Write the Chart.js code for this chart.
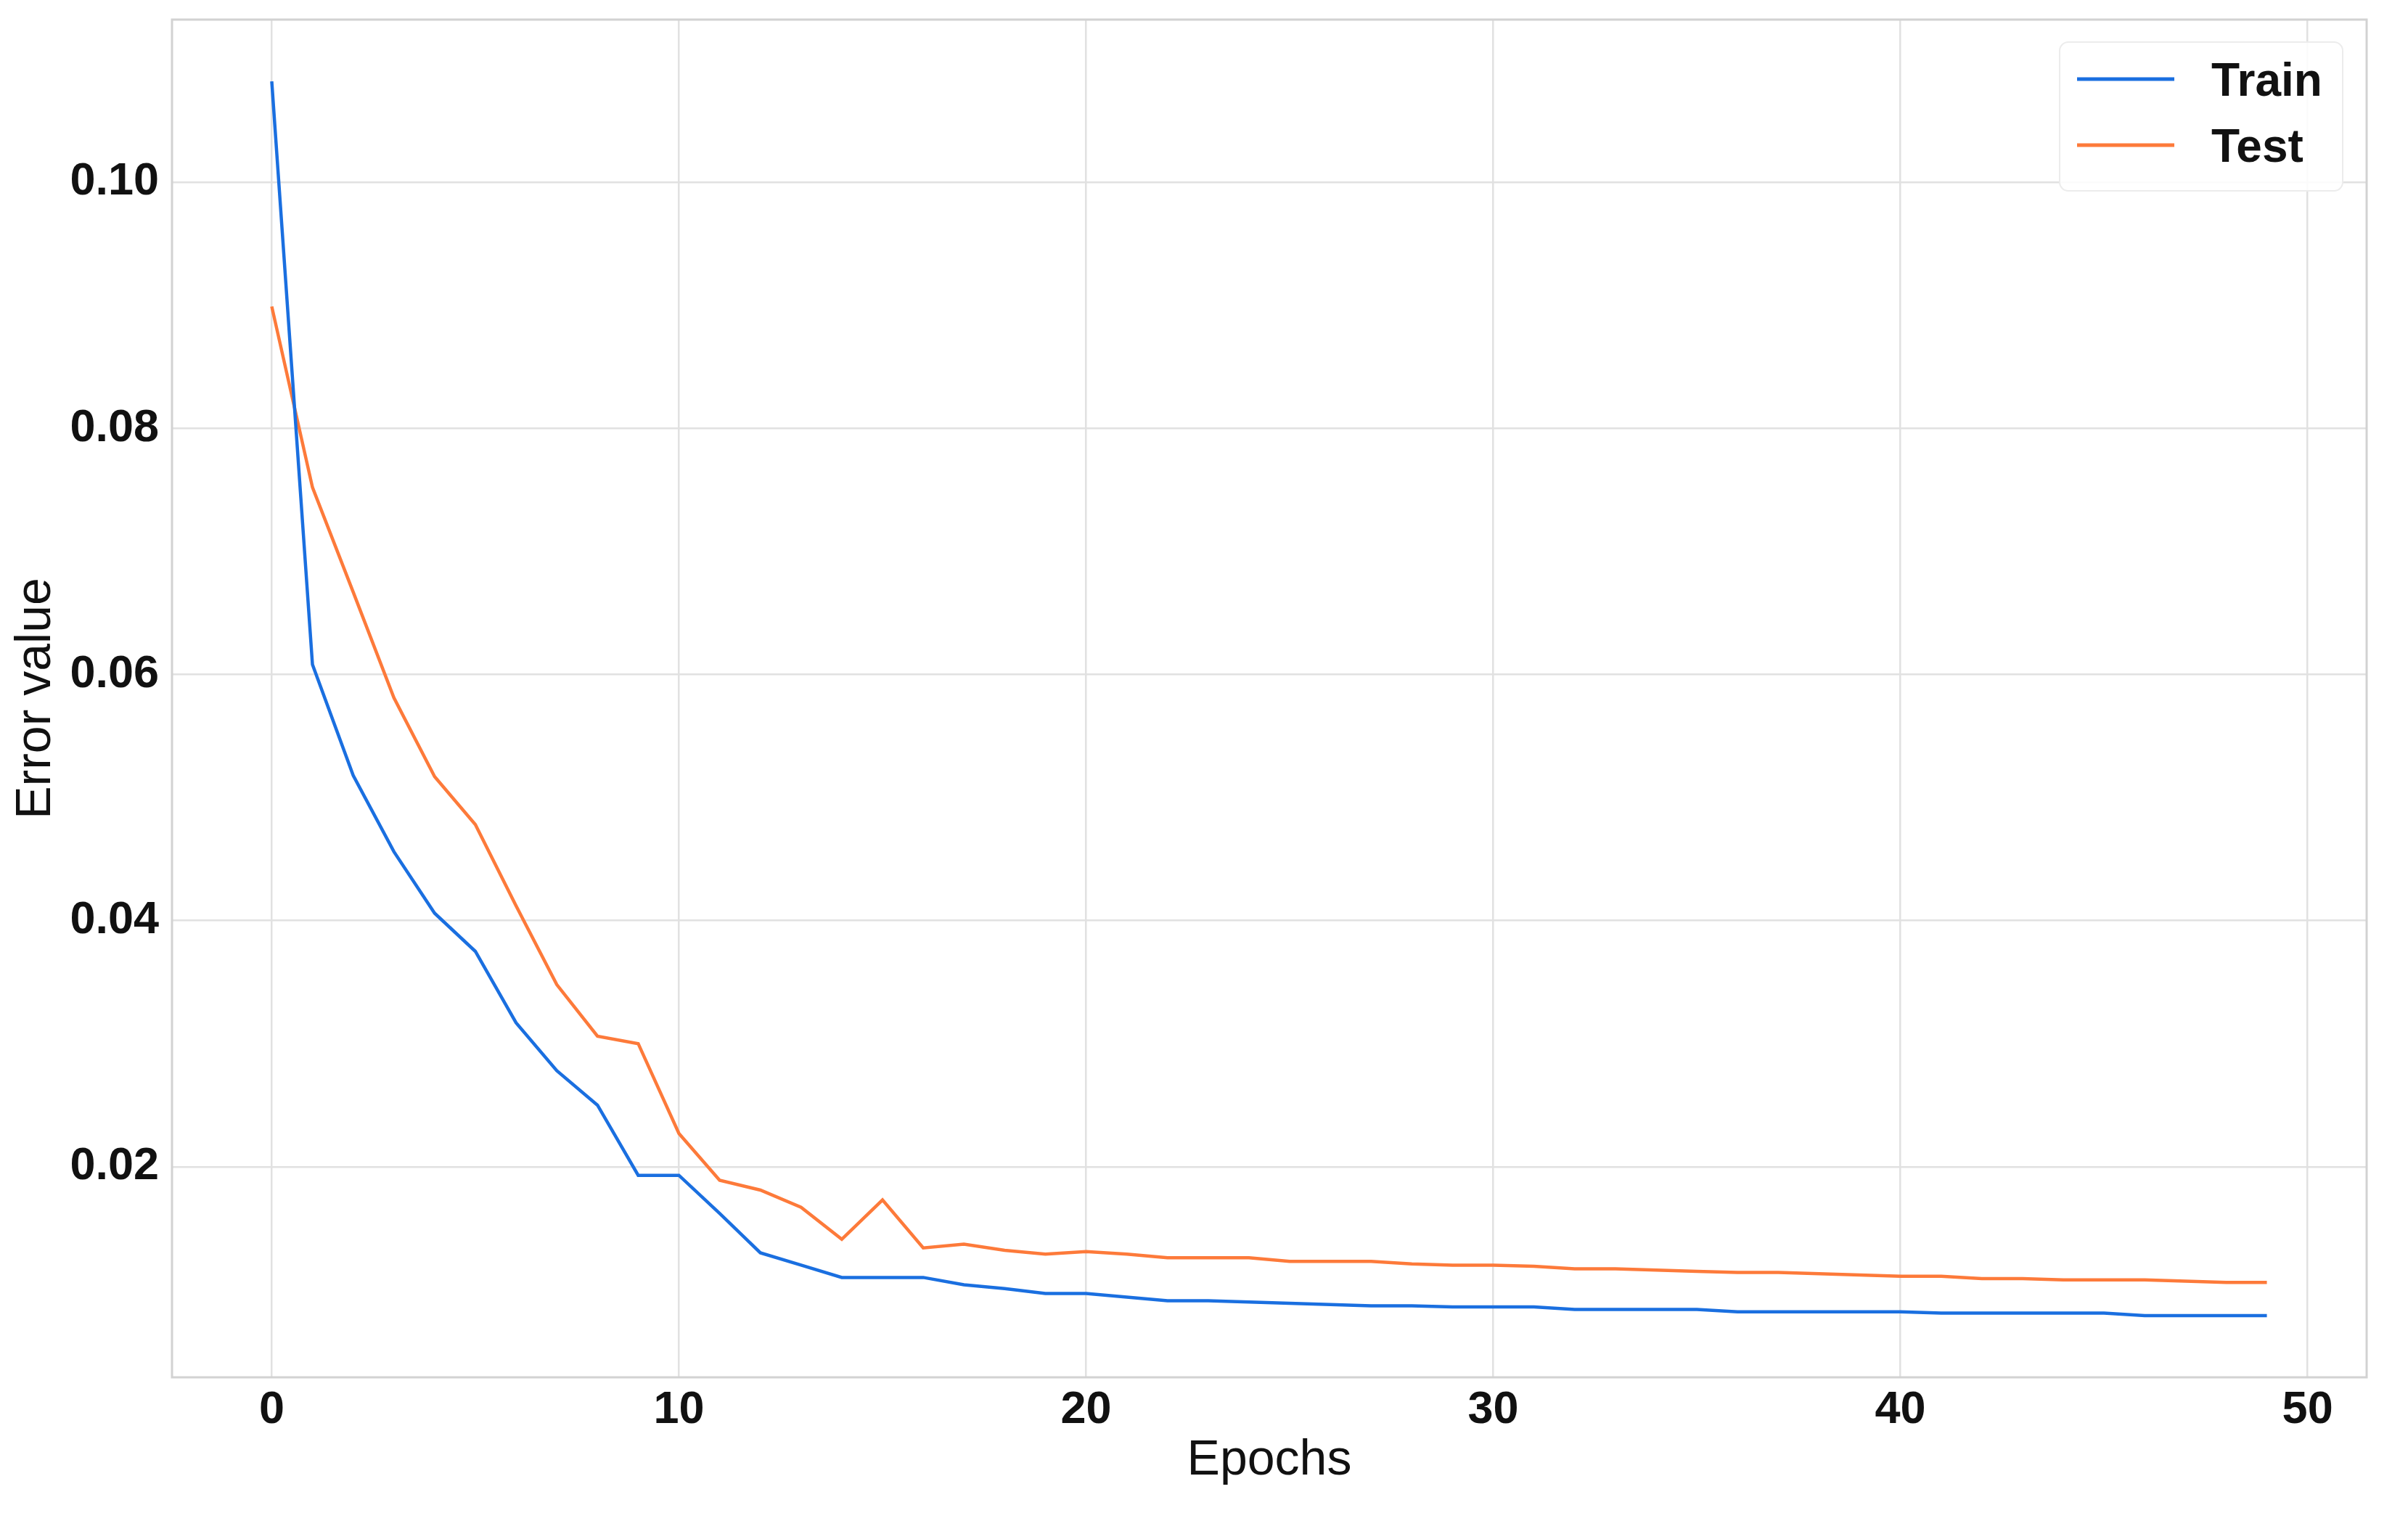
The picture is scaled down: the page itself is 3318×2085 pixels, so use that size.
<!DOCTYPE html>
<html>
<head>
<meta charset="utf-8">
<script src="https://cdn.jsdelivr.net/npm/chart.js@4/dist/chart.umd.min.js"></script>
<style>
  html, body { margin: 0; padding: 0; background: #ffffff; }
  #wrap { width: 3318px; height: 2085px; }
</style>
</head>
<body>
<div id="wrap"><canvas id="c" width="3318" height="2085"></canvas></div>
<script>
// ---- Data ----
const epochs = [0,1,2,3,4,5,6,7,8,9,10,11,12,13,14,15,16,17,18,19,20,21,22,23,24,25,26,27,28,29,30,31,32,33,34,35,36,37,38,39,40,41,42,43,44,45,46,47,48,49];
const trainValues = [0.1082,0.0608,0.0518,0.0456,0.0406,0.0375,0.0317,0.0278,0.0250,0.0193,
  0.0193,0.0162,0.0130,0.0120,0.0110,0.0110,0.0110,0.0104,0.0101,0.0097,
  0.0097,0.0094,0.0091,0.0091,0.0090,0.0089,0.0088,0.0087,0.0087,0.0086,
  0.0086,0.0086,0.0084,0.0084,0.0084,0.0084,0.0082,0.0082,0.0082,0.0082,
  0.0082,0.0081,0.0081,0.0081,0.0081,0.0081,0.0079,0.0079,0.0079,0.0079];
const testValues = [0.0899,0.0752,0.0667,0.0581,0.0517,0.0478,0.0412,0.0348,0.0306,0.0300,
  0.0227,0.0189,0.0181,0.0167,0.0141,0.0173,0.0134,0.0137,0.0132,0.0129,
  0.0131,0.0129,0.0126,0.0126,0.0126,0.0123,0.0123,0.0123,0.0121,0.0120,
  0.0120,0.0119,0.0117,0.0117,0.0116,0.0115,0.0114,0.0114,0.0113,0.0112,
  0.0111,0.0111,0.0109,0.0109,0.0108,0.0108,0.0108,0.0107,0.0106,0.0106];
const seriesNames = ['Train', 'Test'];
const xTicks = [0, 10, 20, 30, 40, 50];
const yTicks = [0.02, 0.04, 0.06, 0.08, 0.10];
const xTitle = 'Epochs';
const yTitle = 'Error value';

// ---- Axis limits with 5% margins (matplotlib style) ----
const allY = trainValues.concat(testValues);
const yMinD = Math.min(...allY), yMaxD = Math.max(...allY);
const yPad = (yMaxD - yMinD) * 0.05;
const xMinD = Math.min(...epochs), xMaxD = Math.max(...epochs);
const xPad = (xMaxD - xMinD) * 0.05;

const toPoints = (vals) => vals.map((v, i) => ({ x: epochs[i], y: v }));

const FONT = "'Liberation Sans', Arial, 'DejaVu Sans', sans-serif";
const GRID = '#e1e1e1';
const FRAME = '#d2d2d2';

const framePlugin = {
  id: 'frame',
  beforeDatasetsDraw(chart) {
    const { ctx, chartArea: a } = chart;
    ctx.save();
    ctx.strokeStyle = FRAME;
    ctx.lineWidth = 3;
    ctx.strokeRect(a.left, a.top, a.right - a.left, a.bottom - a.top);
    ctx.restore();
  }
};

const legendPlugin = {
  id: 'innerLegend',
  afterDatasetsDraw(chart) {
    const { ctx, chartArea: a } = chart;
    const bx = a.right - 423, by = a.top + 31, bw = 390, bh = 205, r = 12;
    ctx.save();
    ctx.beginPath();
    ctx.moveTo(bx + r, by);
    ctx.arcTo(bx + bw, by, bx + bw, by + bh, r);
    ctx.arcTo(bx + bw, by + bh, bx, by + bh, r);
    ctx.arcTo(bx, by + bh, bx, by, r);
    ctx.arcTo(bx, by, bx + bw, by, r);
    ctx.closePath();
    ctx.fillStyle = 'rgba(255,255,255,0.85)';
    ctx.fill();
    ctx.strokeStyle = '#ececec';
    ctx.lineWidth = 2;
    ctx.stroke();
    chart.data.datasets.forEach((ds, i) => {
      const ly = by + 51 + i * 91;
      ctx.beginPath();
      ctx.moveTo(bx + 24, ly);
      ctx.lineTo(bx + 158, ly);
      ctx.strokeStyle = ds.borderColor;
      ctx.lineWidth = 5;
      ctx.stroke();
      ctx.fillStyle = '#111111';
      ctx.font = "bold 64px " + FONT;
      ctx.textAlign = 'left';
      ctx.textBaseline = 'alphabetic';
      ctx.fillText(ds.label, bx + 209, ly + 23);
    });
    ctx.restore();
  }
};

new Chart(document.getElementById('c'), {
  type: 'line',
  data: {
    datasets: [
      { label: seriesNames[0], data: toPoints(trainValues), borderColor: '#1a6fe0', borderWidth: 4.5, pointRadius: 0, fill: false, tension: 0 },
      { label: seriesNames[1], data: toPoints(testValues), borderColor: '#fd7a3a', borderWidth: 4.5, pointRadius: 0, fill: false, tension: 0 }
    ]
  },
  options: {
    responsive: false,
    animation: false,
    devicePixelRatio: 1,
    layout: { padding: { top: 27, right: 57, left: 0, bottom: 0 } },
    plugins: { legend: { display: false }, tooltip: { enabled: false } },
    scales: {
      x: {
        type: 'linear',
        min: xMinD - xPad,
        max: xMaxD + xPad,
        afterBuildTicks: (s) => { s.ticks = xTicks.map(v => ({ value: v })); },
        afterFit: (s) => { s.height = 187; s.paddingLeft = 0; s.paddingRight = 0; },
        grid: { color: GRID, lineWidth: 2.5, drawTicks: false },
        border: { display: false },
        ticks: {
          padding: 8,
          color: '#111111',
          font: { family: FONT, size: 63, weight: 'bold' },
          callback: (v) => String(v),
          maxRotation: 0
        },
        title: {
          display: true,
          text: xTitle,
          color: '#111111',
          font: { family: FONT, size: 68, weight: 'normal' },
          padding: { top: 0, bottom: 31 }
        }
      },
      y: {
        type: 'linear',
        min: yMinD - yPad,
        max: yMaxD + yPad,
        afterBuildTicks: (s) => { s.ticks = yTicks.map(v => ({ value: v })); },
        afterFit: (s) => { s.width = 237; s.paddingTop = 0; s.paddingBottom = 0; },
        grid: { color: GRID, lineWidth: 2.5, drawTicks: false },
        border: { display: false },
        ticks: {
          padding: 18,
          color: '#111111',
          font: { family: FONT, size: 63, weight: 'bold' },
          callback: (v) => Number(v).toFixed(2)
        },
        title: {
          display: true,
          text: yTitle,
          color: '#111111',
          font: { family: FONT, size: 68, weight: 'normal' },
          padding: { top: 9, bottom: 0 }
        }
      }
    }
  },
  plugins: [framePlugin, legendPlugin]
});
</script>
</body>
</html>
